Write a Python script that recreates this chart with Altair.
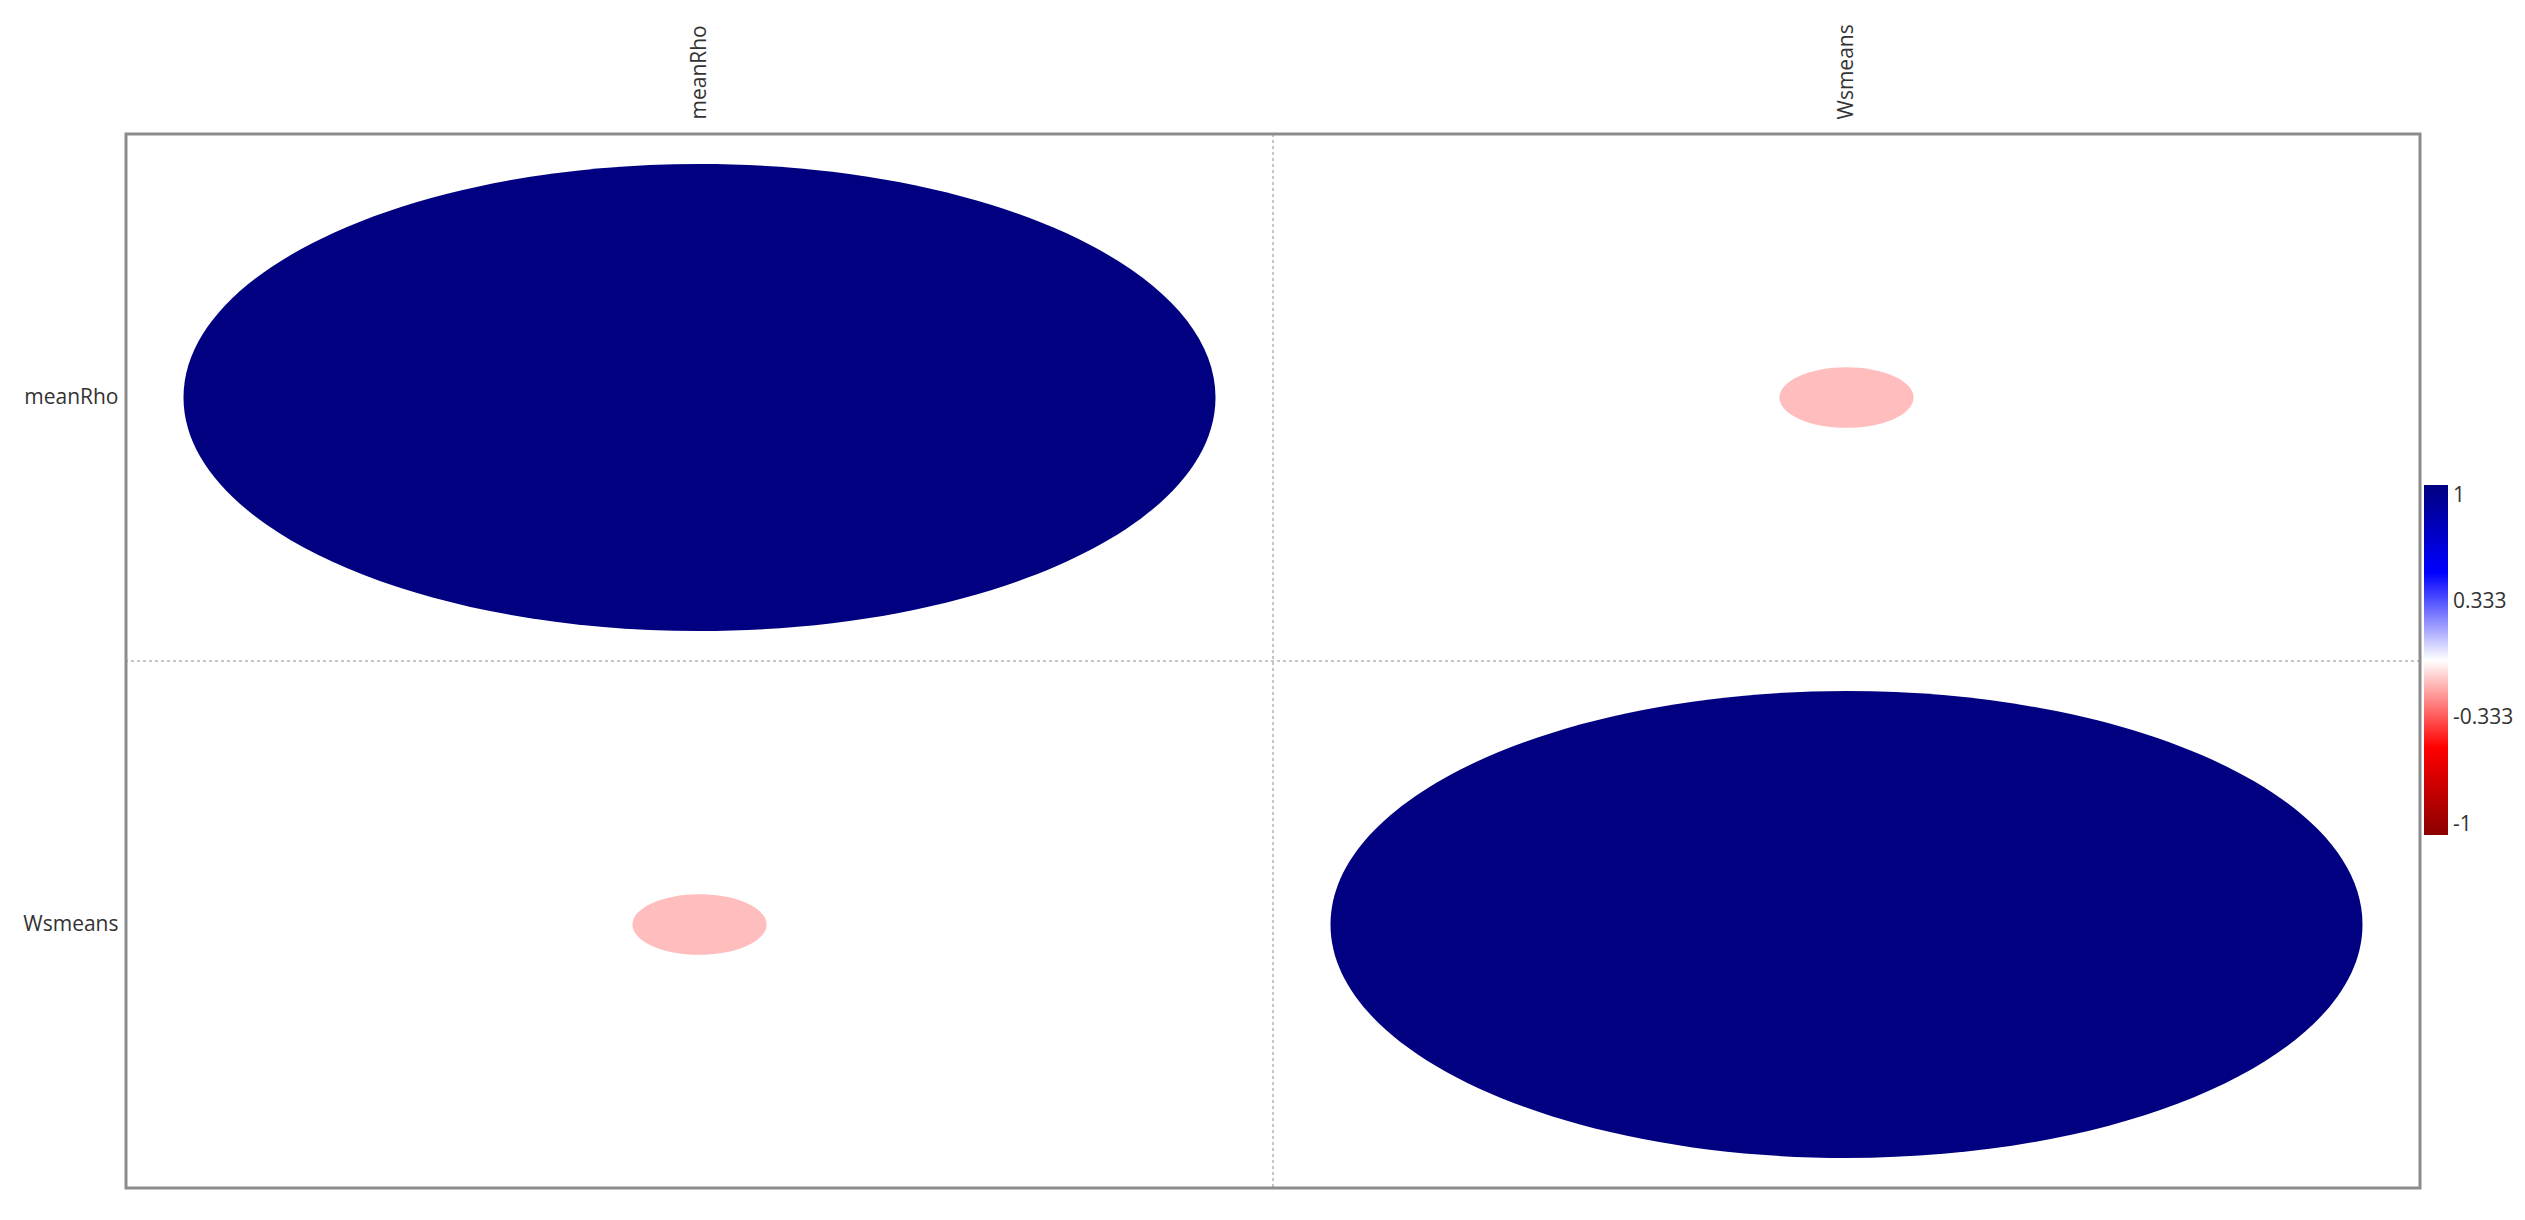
import altair as alt
import pandas as pd

# Variables and correlation matrix (row var, column var, r)
variables = ["meanRho", "Wsmeans"]
row_var = ["meanRho", "meanRho", "Wsmeans", "Wsmeans"]
col_var = ["meanRho", "Wsmeans", "meanRho", "Wsmeans"]
corr = [1.0, -0.13, -0.13, 1.0]

# Boundaries between cells (where dashed separators are drawn)
boundaries = ["Wsmeans"]

# Colour scale stops
color_domain = [-1, -0.5, 0, 0.5, 1]
color_range = ["#8B0000", "#FF0000", "#FFFFFF", "#0000FF", "#000080"]
legend_values = [1, 0.333, -0.333, -1]

df = pd.DataFrame({"row": row_var, "col": col_var, "r": corr})
df["absr"] = df["r"].abs()
bdf = pd.DataFrame({"b": boundaries})

W, H = 2294, 1054
FONT = "Open Sans"
ELLIPSE = "M -1 0 A 1 0.4525 0 1 0 1 0 A 1 0.4525 0 1 0 -1 0 Z"

xscale = alt.Scale(domain=variables, paddingInner=0, paddingOuter=0)
yscale = alt.Scale(domain=variables, paddingInner=0, paddingOuter=0)

xaxis = alt.Axis(orient="top", labelAngle=-90, ticks=False, domain=False, grid=False,
                 title=None, labelFontSize=21, labelFont=FONT, labelColor="#333333",
                 labelPadding=15, minExtent=121, maxExtent=121)
yaxis = alt.Axis(orient="left", labelAngle=0, ticks=False, domain=False, grid=False,
                 title=None, labelFontSize=21, labelFont=FONT, labelColor="#333333",
                 labelPadding=8, minExtent=113, maxExtent=113)

ellipses = alt.Chart(df).mark_point(filled=True, shape=ELLIPSE, opacity=1, strokeWidth=0).encode(
    x=alt.X("col:N", scale=xscale, axis=xaxis),
    y=alt.Y("row:N", scale=yscale, axis=yaxis),
    color=alt.Color("r:Q",
                    scale=alt.Scale(domain=color_domain, range=color_range, interpolate="rgb"),
                    legend=alt.Legend(title=None, orient="none", legendX=W + 4, legendY=351,
                                      direction="vertical", gradientLength=350,
                                      gradientThickness=24, gradientStrokeWidth=0,
                                      values=legend_values,
                                      labelExpr="toString(datum.value)",
                                      labelFontSize=21, labelFont=FONT, labelColor="#333333",
                                      labelOffset=5)),
    size=alt.Size("absr:Q", scale=alt.Scale(type="pow", exponent=2, domain=[0, 1],
                                           range=[0, 1032 ** 2]), legend=None),
)

vrule = alt.Chart(bdf).mark_rule(strokeDash=[3, 3], color="#8c8c8c", strokeWidth=1).encode(
    x=alt.X("b:N", scale=xscale, bandPosition=0, axis=xaxis)
)
hrule = alt.Chart(bdf).mark_rule(strokeDash=[3, 3], color="#8c8c8c", strokeWidth=1).encode(
    y=alt.Y("b:N", scale=yscale, bandPosition=0, axis=yaxis)
)

chart = alt.layer(vrule, hrule, ellipses).properties(
    width=W, height=H,
    padding={"left": 5, "top": 5, "right": 0, "bottom": 5},
).configure(background="white").configure_view(stroke="#8c8c8c", strokeWidth=3)

chart.save("out.html", embed_options={"renderer": "svg", "actions": False})
